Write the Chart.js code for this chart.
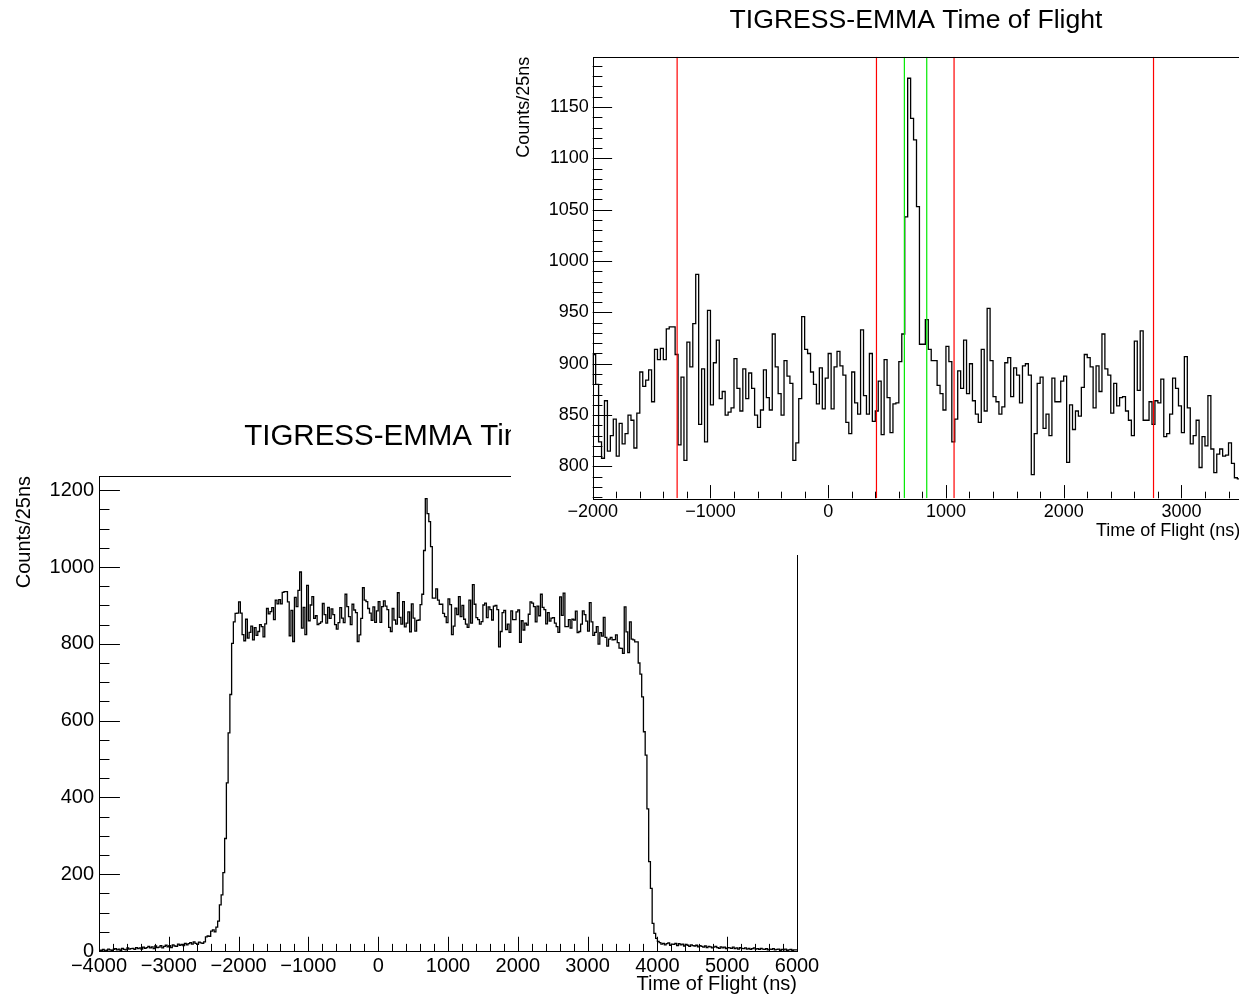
<!DOCTYPE html>
<html>
<head>
<meta charset="utf-8">
<script src="https://cdn.jsdelivr.net/npm/chart.js@4.4.1/dist/chart.umd.min.js"></script>
<style>
html,body{margin:0;padding:0;background:#fff;overflow:hidden;width:1239px;height:996px}
canvas{position:absolute;background:#fff}
#full{left:0;top:400px}
#zoom{left:511px;top:0}
</style>
</head>
<body>
<canvas id="full" width="900" height="596"></canvas>
<canvas id="zoom" width="810" height="555"></canvas>
<script>
'use strict';

/* ---------- Daten: Histogramm, 25 ns Bins ab -4000 ns ---------- */
const X_START = -4000, BIN_WIDTH = 25;

// -4000 .. -2000 ns (Untergrund + Anstiegsflanke)
const countsLeftTail = [
  3,1,2,4,0,2,5,3,1,4,6,3,5,2,7,4,3,8,5,6,
  7,4,9,6,8,5,10,7,9,12,8,11,6,13,9,10,14,8,12,15,
  11,14,9,16,13,12,18,15,17,14,20,16,19,22,18,24,20,17,23,21,
  20,24,37,39,38,52,55,50,62,78,
  120,146,204,293,438,568,668,801,857,879
];
// -2000 .. 3500 ns (aus dem vergroesserten Bild gelesen)
const countsPlateau = [
  880,909,880,824,808,864,815,830,846,810,
  842,822,832,850,845,818,852,892,878,884,
  894,863,914,904,915,904,934,936,936,909,
  821,887,806,921,897,939,987,841,895,824,
  952,860,901,923,866,873,850,853,857,905,
  876,854,895,866,891,876,850,838,855,894,
  867,855,929,897,871,850,903,888,881,806,
  823,866,946,914,910,892,880,861,896,856,
  886,910,856,897,912,898,889,843,832,892,
  862,851,933,869,851,910,844,854,883,831,
  904,867,833,861,862,902,929,1043,1178,1139,
  1118,1053,919,919,943,914,903,903,879,871,
  855,917,902,824,846,893,876,923,871,900,
  864,851,843,914,854,954,903,868,863,851,
  858,901,906,868,896,889,862,898,900,889,
  792,832,881,887,837,851,830,886,863,863,
  883,888,804,860,836,854,849,877,909,906,
  897,857,898,873,929,895,889,852,881,859,
  867,868,854,845,830,922,874,932,845,845,
  863,841,864,862,885,829,832,851,886,876,
  859,833,907,857,822,830,845,799,829,820,
  869,817,794,812,817,810,811,823,803,789
];
// 3500 .. 6000 ns (Abfallflanke + Untergrund)
const countsRightTail = [
  788,775,896,831,777,857,812,810,805,805,750,721,662,571,510,370,233,163,72,46,33,25,
  22,18,20,16,19,21,15,18,17,20,14,19,16,18,13,17,15,12,16,14,
  13,15,11,14,12,10,13,9,12,11,8,10,12,9,7,11,8,10,6,9,
  8,7,10,6,8,5,9,7,6,8,5,7,4,6,8,5,6,4,7,5,
  4,6,3,5,4,6,3,4,5,2,4,3,5,2,3,4,2,3
];

// Schnitte im Zoom-Bild
const redCuts = [-1283, 410, 1069, 2763];
const greenCuts = [647, 837];

// Achsen
const fullXTicks = [-4000,-3000,-2000,-1000,0,1000,2000,3000,4000,5000,6000];
const fullYTicks = [0,200,400,600,800,1000,1200];
const zoomXTicks = [-2000,-1000,0,1000,2000,3000];
const zoomYTicks = [800,850,900,950,1000,1050,1100,1150];
const FULL_Y_MAX = 1237, ZOOM_Y_MIN = 769, ZOOM_Y_MAX = 1199;

const TITLE = 'TIGRESS-EMMA Time of Flight';
const X_TITLE = 'Time of Flight (ns)';
const Y_TITLE = 'Counts/25ns';
const FONT = '"Liberation Sans", Arial, Helvetica, sans-serif';

/* ---------- Histogramm-Punkte ---------- */
const counts = [...countsLeftTail, ...countsPlateau, ...countsRightTail];
function histPoints(){
  const pts = counts.map((c,i)=>({x: X_START + i*BIN_WIDTH, y: c}));
  pts.push({x: X_START + counts.length*BIN_WIDTH, y: counts[counts.length-1]});
  return pts;
}
// senkrechte Linien als ein Datensatz, durch Luecken getrennt
function cutPoints(cuts){
  const pts = [];
  cuts.forEach(c=>{ pts.push({x:c, y:ZOOM_Y_MIN}, {x:c, y:ZOOM_Y_MAX}, {x:c, y:null}); });
  return pts;
}

const fmt = (v)=> v<0 ? '\u2212'+Math.abs(v) : String(v);

/* ROOT-Stil: Rahmen, Ticks nach innen, Titel */
const rootFrame = {
  id:'rootFrame',
  afterDatasetsDraw(chart, args, o){
    const {ctx, chartArea:a, scales:{x,y}} = chart;
    const w = a.right-a.left, h = a.bottom-a.top;
    ctx.save();
    ctx.strokeStyle = '#000'; ctx.lineWidth = 1;
    ctx.beginPath();
    for(let v=Math.ceil(x.min/o.xMinor)*o.xMinor; v<=x.max+1e-6; v+=o.xMinor){
      const px = Math.round(x.getPixelForValue(v))+0.5;
      const len = (Math.abs(v % o.xMajor) < 1e-6 ? 0.03 : 0.015)*h;
      ctx.moveTo(px, a.bottom); ctx.lineTo(px, a.bottom-len);
    }
    for(let v=Math.ceil(y.min/o.yMinor)*o.yMinor; v<=y.max+1e-6; v+=o.yMinor){
      const py = Math.round(y.getPixelForValue(v))+0.5;
      const len = (Math.abs(v % o.yMajor) < 1e-6 ? 0.03 : 0.015)*w;
      ctx.moveTo(a.left, py); ctx.lineTo(a.left+len, py);
    }
    ctx.stroke();
    ctx.strokeRect(Math.round(a.left)+0.5, Math.round(a.top)+0.5, Math.round(w), Math.round(h));
    ctx.fillStyle = '#000';
    ctx.font = o.titleSize+'px '+FONT;
    ctx.textAlign = 'center'; ctx.textBaseline = 'middle';
    ctx.fillText(TITLE, o.titleX, o.titleY);
    ctx.restore();
  }
};

function axes(o){
  return {
    x:{ type:'linear', min:o.xMin, max:o.xMax,
      grid:{display:false, drawTicks:false}, border:{display:false},
      afterBuildTicks:s=>{ s.ticks = o.xTicks.map(v=>({value:v})); },
      afterFit:s=>{ s.height = o.xH; },
      ticks:{ color:'#000', font:{family:FONT, size:o.lab}, padding:o.xPad, maxRotation:0, autoSkip:false, callback:fmt },
      title:{ display:true, text:X_TITLE, align:'end', color:'#000', font:{family:FONT, size:o.lab}, padding:{top:0, bottom:o.xTitlePad} } },
    y:{ type:'linear', min:o.yMin, max:o.yMax,
      grid:{display:false, drawTicks:false}, border:{display:false},
      afterBuildTicks:s=>{ s.ticks = o.yTicks.map(v=>({value:v})); },
      afterFit:s=>{ s.width = o.yW; },
      ticks:{ color:'#000', font:{family:FONT, size:o.lab}, padding:o.yPad, autoSkip:false, callback:fmt },
      title:{ display:true, text:Y_TITLE, align:'end', color:'#000', font:{family:FONT, size:o.lab}, padding:{top:o.yTitlePad, bottom:0} } }
  };
}

const histDs = ()=>({ label:'hist', data:histPoints(), stepped:'after', borderColor:'#000', backgroundColor:'#000',
  borderWidth:1.3, pointRadius:0, fill:false, order:2 });

// Uebersicht
new Chart(document.getElementById('full'), {
  type:'line',
  data:{ datasets:[histDs()] },
  options:{
    responsive:false, animation:false, events:[],
    layout:{ padding:{left:0, top:76, right:103, bottom:0} },
    plugins:{ legend:{display:false}, tooltip:{enabled:false},
      rootFrame:{ xMinor:200, xMajor:1000, yMinor:50, yMajor:200, titleSize:29.5, titleX:451, titleY:37 } },
    scales: axes({ xMin:-4000, xMax:6000, yMin:0, yMax:FULL_Y_MAX, xTicks:fullXTicks, yTicks:fullYTicks,
      xH:45, yW:99, lab:20, xPad:3, yPad:5, xTitlePad:0, yTitlePad:12 })
  },
  plugins:[rootFrame]
});

// Zoom mit Schnittlinien
const cutDs = (cuts,color)=>({ label:'cuts', data:cutPoints(cuts), spanGaps:false,
  borderColor:color, backgroundColor:color, borderWidth:1.2, pointRadius:0, fill:false, order:1 });
new Chart(document.getElementById('zoom'), {
  type:'line',
  data:{ datasets:[ cutDs(redCuts,'#ff0000'), cutDs(greenCuts,'#00ea00'), histDs() ] },
  options:{
    responsive:false, animation:false, events:[],
    layout:{ padding:{left:0, top:56.7, right:80.7, bottom:0} },
    plugins:{ legend:{display:false}, tooltip:{enabled:false},
      rootFrame:{ xMinor:200, xMajor:1000, yMinor:10, yMajor:50, titleSize:26.6, titleX:405, titleY:21 } },
    scales: axes({ xMin:-2000, xMax:3500, yMin:ZOOM_Y_MIN, yMax:ZOOM_Y_MAX, xTicks:zoomXTicks, yTicks:zoomYTicks,
      xH:56.7, yW:81.7, lab:18, xPad:3, yPad:4, xTitlePad:13, yTitlePad:2 })
  },
  plugins:[rootFrame]
});
</script>
</body>
</html>
